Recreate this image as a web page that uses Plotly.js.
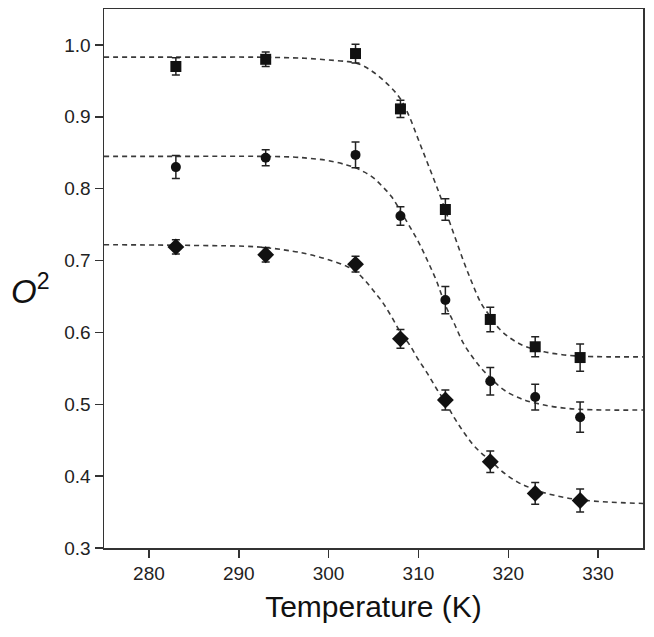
<!DOCTYPE html>
<html>
<head>
<meta charset="utf-8">
<script src="https://cdn.plot.ly/plotly-3.0.1.min.js"></script>
<style>
  html, body { margin: 0; padding: 0; background: #fff; }
  #plot { width: 654px; height: 637px; }
</style>
</head>
<body>
<div id="plot"></div>
<script>
// measured temperatures (K)
var temps = [283, 293, 303, 308, 313, 318, 323, 328];

// order parameter, three samples
var sqY = [0.970, 0.980, 0.988, 0.911, 0.771, 0.618, 0.580, 0.565];
var sqErr = [0.012, 0.010, 0.013, 0.012, 0.015, 0.017, 0.014, 0.019];
var ciY = [0.830, 0.843, 0.847, 0.762, 0.645, 0.532, 0.510, 0.482];
var ciErr = [0.016, 0.011, 0.018, 0.013, 0.019, 0.019, 0.018, 0.021];
var diY = [0.719, 0.708, 0.695, 0.591, 0.506, 0.420, 0.376, 0.366];
var diErr = [0.010, 0.010, 0.011, 0.013, 0.014, 0.015, 0.015, 0.016];

// dashed fit curves
var fitT = [275, 285, 292, 296, 298, 300, 302, 303, 304, 305, 306, 307, 308, 309, 310, 311,
            312, 313, 314, 315, 316, 317, 318, 319, 320, 321, 322, 324, 326, 328, 331, 335];
var sqFit = [0.983, 0.983, 0.983, 0.982, 0.981, 0.979, 0.977, 0.975, 0.970, 0.962, 0.952, 0.940,
             0.925, 0.900, 0.868, 0.836, 0.804, 0.770, 0.735, 0.700, 0.668, 0.640, 0.622, 0.605,
             0.594, 0.586, 0.580, 0.573, 0.569, 0.567, 0.566, 0.566];
var ciFit = [0.845, 0.845, 0.845, 0.844, 0.842, 0.839, 0.833, 0.829, 0.823, 0.815, 0.803, 0.789,
             0.769, 0.748, 0.726, 0.700, 0.672, 0.638, 0.612, 0.585, 0.566, 0.550, 0.537, 0.525,
             0.516, 0.510, 0.505, 0.499, 0.495, 0.493, 0.492, 0.492];
var diFit = [0.722, 0.721, 0.719, 0.713, 0.708, 0.701, 0.692, 0.685, 0.673, 0.658, 0.642, 0.622,
             0.600, 0.583, 0.562, 0.543, 0.522, 0.503, 0.481, 0.462, 0.445, 0.432, 0.422, 0.410,
             0.400, 0.392, 0.386, 0.377, 0.371, 0.367, 0.364, 0.362];

var xTicks = [280, 290, 300, 310, 320, 330];
var yTicks = [0.3, 0.4, 0.5, 0.6, 0.7, 0.8, 0.9, 1.0];

var FONT = "Liberation Sans, Arial, sans-serif";

function fitTrace(y) {
  return {
    x: fitT, y: y, type: "scatter", mode: "lines",
    line: {color: "#3a3a3a", width: 1.6, dash: "5px,4px", shape: "spline"},
    hoverinfo: "skip"
  };
}

function pointTrace(y, err, symbol, size) {
  return {
    x: temps, y: y, type: "scatter", mode: "markers",
    marker: {symbol: symbol, size: size, color: "#111"},
    error_y: {type: "data", array: err, visible: true, color: "#222", thickness: 1.5, width: 4}
  };
}

var data = [
  fitTrace(sqFit), fitTrace(ciFit), fitTrace(diFit),
  pointTrace(sqY, sqErr, "square", 11),
  pointTrace(ciY, ciErr, "circle", 10),
  pointTrace(diY, diErr, "diamond", 13)
];

var axisStyle = {
  showline: true, mirror: true, linecolor: "#333", linewidth: 1.5,
  ticks: "outside", ticklen: 8, tickwidth: 1.5, tickcolor: "#333",
  showgrid: false, zeroline: false,
  tickfont: {family: FONT, size: 19, color: "#222"}
};

var layout = {
  width: 654, height: 637,
  margin: {l: 104, r: 11, t: 9, b: 89},
  showlegend: false,
  paper_bgcolor: "#fff", plot_bgcolor: "#fff",
  xaxis: Object.assign({}, axisStyle, {
    range: [275, 335], tickvals: xTicks,
    title: {text: "Temperature (K)", standoff: 12,
            font: {family: FONT, size: 30, color: "#111"}}
  }),
  yaxis: Object.assign({}, axisStyle, {
    range: [0.3, 1.05], tickvals: yTicks, tickformat: ".1f"
  }),
  annotations: [{
    xref: "paper", yref: "paper", x: -0.137, y: 0.48,
    xanchor: "center", yanchor: "middle", showarrow: false,
    text: "<i>O</i><sup>2</sup>",
    font: {family: FONT, size: 33, color: "#111"}
  }]
};

Plotly.newPlot("plot", data, layout, {staticPlot: true});
</script>
</body>
</html>
